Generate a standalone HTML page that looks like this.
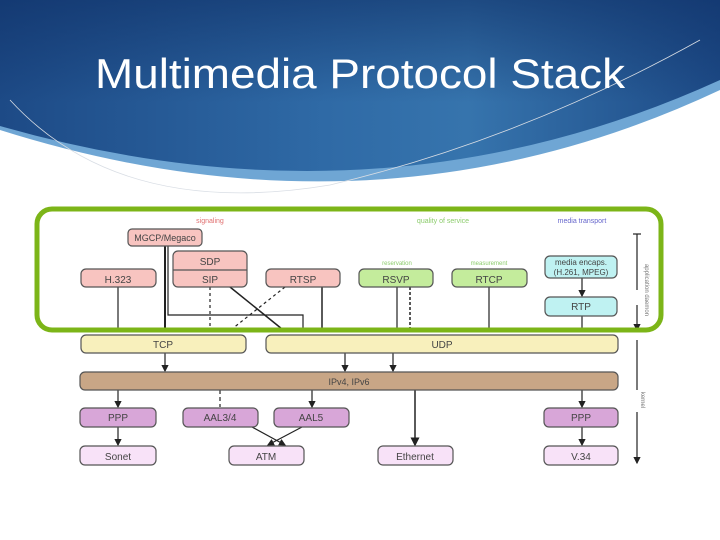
<!DOCTYPE html>
<html><head><meta charset="utf-8"><style>
html,body{margin:0;padding:0;background:#fff;}
svg{display:block;font-family:"Liberation Sans",sans-serif;}
</style></head><body>
<svg width="720" height="540" viewBox="0 0 720 540" xmlns="http://www.w3.org/2000/svg">
<defs>
<linearGradient id="bg" x1="0" y1="0" x2="1" y2="0">
<stop offset="0" stop-color="#1d4a86"/><stop offset="0.45" stop-color="#2f6aa6"/><stop offset="0.65" stop-color="#3674ad"/><stop offset="1" stop-color="#1d4a86"/>
</linearGradient>
<linearGradient id="bgv" x1="0" y1="0" x2="0" y2="1">
<stop offset="0" stop-color="#0e2f66" stop-opacity="0.6"/><stop offset="0.6" stop-color="#0e2f66" stop-opacity="0"/>
</linearGradient>
<marker id="ar" markerWidth="6" markerHeight="6" refX="5" refY="3" orient="auto"><path d="M0,0 L6,3 L0,6 Z" fill="#222"/></marker>
</defs>
<path d="M0,0 H720 V90 Q380,250 0,130 Z" fill="#6fa6d4"/>
<path d="M0,0 H720 V80 Q380,235 0,126 Z" fill="url(#bg)"/>
<path d="M0,0 H720 V80 Q380,235 0,126 Z" fill="url(#bgv)"/>
<path d="M10,100 Q120,220 330,185 Q520,140 700,40" fill="none" stroke="#d8dde4" stroke-width="0.8"/>
<text x="95" y="88" font-size="42" fill="#fff" textLength="530" lengthAdjust="spacingAndGlyphs">Multimedia Protocol Stack</text>

<g font-size="10" text-anchor="middle" fill="#444" stroke-width="1.2">
<text x="210" y="223" font-size="7" fill="#e07070">signaling</text>
<text x="443" y="223" font-size="7" fill="#8ccc6c">quality of service</text>
<text x="582" y="223" font-size="7" fill="#6666cc">media transport</text>
<text x="397" y="265" font-size="6" fill="#8ccc6c">reservation</text>
<text x="489" y="265" font-size="6" fill="#8ccc6c">measurement</text>

<g stroke="#222" fill="none">
<line x1="118" y1="287" x2="118" y2="329"/>
<line x1="165" y1="246" x2="165" y2="329" stroke-width="2"/>
<polyline points="168,246 168,315 303,315 303,329"/>
<line x1="210" y1="287" x2="210" y2="329" stroke-dasharray="3,3"/>
<line x1="230" y1="287" x2="282" y2="329" stroke-width="1.5"/>
<line x1="285" y1="287" x2="232" y2="329" stroke-dasharray="3,3"/>
<line x1="322" y1="287" x2="322" y2="329" stroke-width="1.5"/>
<line x1="397" y1="287" x2="397" y2="329"/>
<line x1="410" y1="287" x2="410" y2="329" stroke-dasharray="3,2" stroke-width="1.5"/>
<line x1="489" y1="287" x2="489" y2="329"/>
<line x1="582" y1="278" x2="582" y2="296" marker-end="url(#ar)"/>
<line x1="582" y1="316" x2="582" y2="329"/>
<line x1="165" y1="353" x2="165" y2="371" marker-end="url(#ar)"/>
<line x1="345" y1="353" x2="345" y2="371" marker-end="url(#ar)"/>
<line x1="393" y1="353" x2="393" y2="371" marker-end="url(#ar)"/>
<line x1="118" y1="390" x2="118" y2="407" marker-end="url(#ar)"/>
<line x1="220" y1="390" x2="220" y2="407" stroke-dasharray="4,3"/>
<line x1="312" y1="390" x2="312" y2="407" marker-end="url(#ar)"/>
<line x1="415" y1="390" x2="415" y2="445" marker-end="url(#ar)" stroke-width="1.5"/>
<line x1="582" y1="390" x2="582" y2="407" marker-end="url(#ar)"/>
<line x1="118" y1="427" x2="118" y2="445" marker-end="url(#ar)"/>
<line x1="252" y1="427" x2="285" y2="445" marker-end="url(#ar)"/>
<line x1="302" y1="427" x2="268" y2="445" marker-end="url(#ar)"/>
<line x1="582" y1="427" x2="582" y2="445" marker-end="url(#ar)"/>
<line x1="637" y1="234" x2="637" y2="290"/><line x1="637" y1="305" x2="637" y2="330" marker-end="url(#ar)"/>
<line x1="633" y1="234" x2="641" y2="234"/>
<line x1="637" y1="340" x2="637" y2="390"/><line x1="637" y1="412" x2="637" y2="463" marker-end="url(#ar)"/>
</g>

<g stroke="#555" stroke-width="1.2">
<rect x="128" y="229" width="74" height="17" rx="4" fill="#f8c4c0"/>
<rect x="173" y="251" width="74" height="36" rx="5" fill="#f8c4c0"/>
<line x1="173" y1="270" x2="247" y2="270"/>
<rect x="81" y="269" width="75" height="18" rx="5" fill="#f8c4c0"/>
<rect x="266" y="269" width="74" height="18" rx="5" fill="#f8c4c0"/>
<rect x="359" y="269" width="74" height="18" rx="5" fill="#c4ec9c"/>
<rect x="452" y="269" width="75" height="18" rx="5" fill="#c4ec9c"/>
<rect x="545" y="256" width="72" height="22" rx="5" fill="#bff2f2"/>
<rect x="545" y="297" width="72" height="19" rx="5" fill="#bff2f2"/>
<rect x="81" y="335" width="165" height="18" rx="5" fill="#f8f0bc"/>
<rect x="266" y="335" width="352" height="18" rx="5" fill="#f8f0bc"/>
<rect x="80" y="372" width="538" height="18" rx="5" fill="#c8a686"/>
<rect x="80" y="408" width="76" height="19" rx="5" fill="#d8a6d8"/>
<rect x="183" y="408" width="75" height="19" rx="5" fill="#d8a6d8"/>
<rect x="274" y="408" width="75" height="19" rx="5" fill="#d8a6d8"/>
<rect x="544" y="408" width="74" height="19" rx="5" fill="#d8a6d8"/>
<rect x="80" y="446" width="76" height="19" rx="5" fill="#f8e2f8"/>
<rect x="229" y="446" width="75" height="19" rx="5" fill="#f8e2f8"/>
<rect x="378" y="446" width="75" height="19" rx="5" fill="#f8e2f8"/>
<rect x="544" y="446" width="74" height="19" rx="5" fill="#f8e2f8"/>
</g>
<text x="165" y="241" font-size="9">MGCP/Megaco</text>
<text x="210" y="265">SDP</text>
<text x="210" y="283">SIP</text>
<text x="118" y="283">H.323</text>
<text x="303" y="283">RTSP</text>
<text x="396" y="283">RSVP</text>
<text x="489" y="283">RTCP</text>
<text x="581" y="265" font-size="8">media encaps.</text>
<text x="581" y="275" font-size="8">(H.261, MPEG)</text>
<text x="581" y="310">RTP</text>
<text x="163" y="348">TCP</text>
<text x="442" y="348">UDP</text>
<text x="349" y="385" font-size="9">IPv4, IPv6</text>
<text x="118" y="421">PPP</text>
<text x="220" y="421">AAL3/4</text>
<text x="311" y="421">AAL5</text>
<text x="581" y="421">PPP</text>
<text x="118" y="460">Sonet</text>
<text x="266" y="460">ATM</text>
<text x="415" y="460">Ethernet</text>
<text x="581" y="460">V.34</text>
<text x="645" y="290" font-size="6" fill="#777" transform="rotate(90 645 290)">application daemon</text>
<text x="641" y="400" font-size="6" fill="#777" transform="rotate(90 641 400)">kernel</text>
</g>

<rect x="37" y="209" width="624" height="121" rx="15" fill="none" stroke="#7cb518" stroke-width="5"/>
</svg>
</body></html>
